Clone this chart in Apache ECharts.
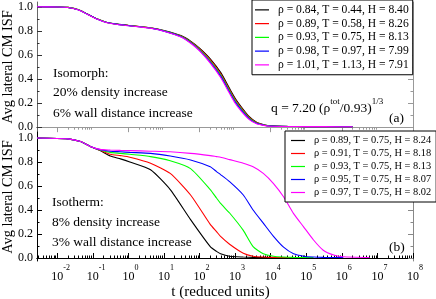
<!DOCTYPE html>
<html><head><meta charset="utf-8">
<script src="https://cdn.jsdelivr.net/npm/echarts@6/dist/echarts.min.js"></script>
<style>html,body{margin:0;padding:0;background:#fff}#c{width:436px;height:299px}</style>
</head><body><div id="c"></div>
<script>
const FONT = '"Liberation Serif", "DejaVu Serif", serif';
const COLORS = ['#000000', '#ff0000', '#00ff00', '#0000ff', '#ff00ff'];

// ---- Panel (a): isomorph ----
const namesA = [
  'ρ = 0.84, T = 0.44, H = 8.40',
  'ρ = 0.89, T = 0.58, H = 8.26',
  'ρ = 0.93, T = 0.75, H = 8.13',
  'ρ = 0.98, T = 0.97, H = 7.99',
  'ρ = 1.01, T = 1.13, H = 7.91'
];
const tA = [0.0027, 0.01, 0.02, 0.04, 0.07, 0.13, 0.25, 0.5, 1, 2, 5, 10, 30, 60, 100, 200, 400, 700, 1000, 1500, 2500, 4000, 7000, 1e4, 3e4, 1e5, 1e6, 2e6];
const a1 = [1.0, 0.998, 0.995, 0.975, 0.94, 0.90, 0.87, 0.856, 0.846, 0.837, 0.822, 0.803, 0.761, 0.709, 0.657, 0.568, 0.451, 0.321, 0.241, 0.168, 0.087, 0.041, 0.017, 0.011, 0.007, 0.005, 0.004, 0.004];
const a2 = [1.0, 0.998, 0.995, 0.975, 0.94, 0.90, 0.87, 0.855, 0.845, 0.836, 0.821, 0.801, 0.758, 0.704, 0.651, 0.559, 0.440, 0.310, 0.230, 0.159, 0.081, 0.038, 0.016, 0.010, 0.006, 0.005, 0.004, 0.004];
const a3 = [1.0, 0.998, 0.995, 0.975, 0.94, 0.90, 0.87, 0.855, 0.845, 0.835, 0.820, 0.800, 0.755, 0.700, 0.645, 0.550, 0.430, 0.300, 0.220, 0.150, 0.075, 0.035, 0.015, 0.010, 0.006, 0.005, 0.004, 0.004];
const a4 = [1.0, 0.998, 0.994, 0.974, 0.939, 0.899, 0.869, 0.854, 0.844, 0.834, 0.819, 0.798, 0.752, 0.696, 0.639, 0.541, 0.420, 0.290, 0.210, 0.141, 0.069, 0.032, 0.014, 0.009, 0.006, 0.005, 0.004, 0.004];
const a5 = [1.0, 0.998, 0.994, 0.973, 0.938, 0.898, 0.868, 0.853, 0.843, 0.833, 0.818, 0.797, 0.749, 0.691, 0.633, 0.532, 0.409, 0.279, 0.199, 0.132, 0.063, 0.029, 0.013, 0.008, 0.006, 0.005, 0.004, 0.004];

// ---- Panel (b): isotherm ----
const namesB = [
  'ρ = 0.89, T = 0.75, H = 8.24',
  'ρ = 0.91, T = 0.75, H = 8.18',
  'ρ = 0.93, T = 0.75, H = 8.13',
  'ρ = 0.95, T = 0.75, H = 8.07',
  'ρ = 0.97, T = 0.75, H = 8.02'
];
const tB = [0.0027, 0.02, 0.045, 0.085, 0.16, 0.31, 0.6, 1.1, 4.2, 15, 56, 200, 300, 390, 700, 1700, 3200, 6200, 12000, 23000, 44000, 84000, 160000, 300000, 590000, 1.1e6, 6e6];
const b1 = [1.0, 0.993, 0.97, 0.93, 0.895, 0.85, 0.826, 0.80, 0.735, 0.57, 0.32, 0.095, 0.055, 0.035, 0.015, 0.008, 0.005, 0.004, 0.004];
const b2 = [1.0, 0.993, 0.97, 0.93, 0.898, 0.865, 0.853, 0.84, 0.79, 0.705, 0.525, 0.28, 0.22, 0.18, 0.115, 0.04, 0.015, 0.008, 0.005, 0.004, 0.004];
const b3 = [1.0, 0.993, 0.97, 0.93, 0.90, 0.88, 0.872, 0.864, 0.845, 0.81, 0.745, 0.57, 0.50, 0.455, 0.375, 0.23, 0.095, 0.035, 0.015, 0.008, 0.005, 0.004, 0.004];
const b4 = [1.0, 0.993, 0.97, 0.93, 0.903, 0.89, 0.885, 0.88, 0.872, 0.85, 0.817, 0.76, 0.72, 0.695, 0.636, 0.525, 0.40, 0.29, 0.18, 0.09, 0.035, 0.015, 0.008, 0.005, 0.004, 0.004];
const b5 = [1.0, 0.993, 0.97, 0.93, 0.905, 0.90, 0.897, 0.895, 0.89, 0.885, 0.872, 0.853, 0.845, 0.84, 0.82, 0.79, 0.76, 0.705, 0.62, 0.51, 0.37, 0.26, 0.15, 0.065, 0.025, 0.01, 0.004];

// ---- Axis ticks ----
const XMIN = 0.0027, XMAX = 1e8;
const majorExpTop = [-2, 0, 2, 4, 6, 8];
const minorExpTop = [-2, 0, 2, 4, 6];
const majorExpBottom = [-2, -1, 0, 1, 2, 3, 4, 5, 6, 7, 8];
const minorExpBottom = [-3, -2, -1, 0, 1, 2, 3, 4, 5, 6, 7];
const minorMult = [2, 3, 4, 5, 6, 7, 8, 9];
const yMajors = [0, 0.2, 0.4, 0.6, 0.8, 1.0];
const yMinors = [0.1, 0.3, 0.5, 0.7, 0.9];

const pow10 = e => Number('1e' + e);
const minorsOf = exps => exps.flatMap(e => minorMult.map(m => m * pow10(e))).filter(v => v >= XMIN && v <= XMAX);

const chart = echarts.init(document.getElementById('c'), null, {renderer: 'canvas'});

function xAx(grid, pos, lineColor, ticks, len, tickColor, labels) {
  return {
    type: 'log', logBase: 10, gridIndex: grid, position: pos, min: XMIN, max: XMAX,
    axisLine: {show: !!lineColor, lineStyle: {color: lineColor || '#000', width: 1}},
    axisTick: ticks ? {show: true, inside: true, length: len, customValues: ticks, lineStyle: {color: tickColor, width: 1}} : {show: false},
    axisLabel: labels ? {
      show: true, customValues: ticks, margin: 10, hideOverlap: false,
      formatter: v => { const n = Math.round(Math.log10(v)); return '{pad|' + n + '}{b|10}{sup|' + n + '}'; },
      rich: {
        b: {fontSize: 12, fontFamily: FONT, color: '#000', lineHeight: 12, verticalAlign: 'bottom'},
        sup: {fontSize: 8, fontFamily: FONT, color: '#000', lineHeight: 8, verticalAlign: 'bottom', padding: [0, 0, 11, 0]},
        pad: {fontSize: 8, fontFamily: FONT, color: 'rgba(0,0,0,0)', lineHeight: 8, verticalAlign: 'bottom', padding: [0, 0, 11, 0]}
      }
    } : {show: false},
    splitLine: {show: false}
  };
}
function yAx(grid, pos, min, max, lineColor, ticks, len, tickColor, labels) {
  return {
    type: 'value', gridIndex: grid, position: pos, min: min, max: max,
    axisLine: {show: !!lineColor, lineStyle: {color: lineColor || '#000', width: 1}},
    axisTick: {show: true, inside: true, length: len, customValues: ticks, lineStyle: {color: tickColor, width: 1}},
    axisLabel: labels ? {show: true, customValues: ticks, margin: 4, fontSize: 12, fontFamily: FONT, color: '#000',
      formatter: v => v.toFixed(1)} : {show: false},
    splitLine: {show: false}
  };
}

const xAxis = [
  xAx(0, 'bottom', '#000', null),
  xAx(0, 'top', '#999', majorExpTop.map(pow10), 5, '#999'),
  xAx(0, 'top', null, minorsOf(minorExpTop), 2.5, '#999'),
  xAx(1, 'bottom', '#000', majorExpBottom.map(pow10), 5, '#000', true),
  xAx(1, 'bottom', null, minorsOf(minorExpBottom), 2.5, '#000'),
  xAx(1, 'top', '#000', null)
];
const yAxis = [
  yAx(0, 'left', -0.04, 1.04, '#666', yMajors, 5, '#333', true),
  yAx(0, 'left', -0.04, 1.04, null, yMinors, 2.5, '#333'),
  yAx(0, 'right', -0.04, 1.04, '#999', yMajors, 5, '#999'),
  yAx(0, 'right', -0.04, 1.04, null, yMinors, 2.5, '#999'),
  yAx(1, 'left', -0.025, 1.05, '#000', yMajors, 5, '#000', true),
  yAx(1, 'left', -0.025, 1.05, null, yMinors, 2.5, '#000'),
  yAx(1, 'right', -0.025, 1.05, '#888', yMajors, 5, '#888'),
  yAx(1, 'right', -0.025, 1.05, null, yMinors, 2.5, '#888')
];

const valsA = [a1, a2, a3, a4, a5];
const valsB = [b1, b2, b3, b4, b5];
const series = [];
valsA.forEach((vals, i) => series.push({
  type: 'line', name: namesA[i], xAxisIndex: 0, yAxisIndex: 0,
  data: vals.map((v, j) => [tA[j], v]), showSymbol: false, symbol: 'none',
  smooth: 0.2, lineStyle: {color: COLORS[i], width: 1.1}, itemStyle: {color: COLORS[i]}
}));
valsB.forEach((vals, i) => series.push({
  type: 'line', name: namesB[i], xAxisIndex: 3, yAxisIndex: 4,
  data: vals.map((v, j) => [tB[j], v]), showSymbol: false, symbol: 'none',
  smooth: 0.2, lineStyle: {color: COLORS[i], width: 1.1}, itemStyle: {color: COLORS[i]}
}));

function legendCfg(names, left, top, fs, lh, pad) {
  return {
    data: names, left: left, top: top, orient: 'vertical', icon: 'rect',
    itemWidth: 14, itemHeight: 1.2, itemGap: 0, padding: pad,
    borderColor: '#000', borderWidth: 1, backgroundColor: '#fff', selectedMode: false,
    textStyle: {fontFamily: FONT, fontSize: fs, lineHeight: lh, color: '#000', padding: [0, 0, 0, 4]}
  };
}

function txt(x, y, text, size, extra) {
  return Object.assign({type: 'text', x: x, y: y, z: 100,
    style: {text: text, fontSize: size, fontFamily: FONT, fill: '#000', align: 'left', verticalAlign: 'middle'}}, extra || {});
}
const supStyle = {fontSize: 9, fontFamily: FONT, fill: '#000', lineHeight: 9, verticalAlign: 'bottom', padding: [0, 0, 9, 0]};
const nStyle = {fontSize: 13.5, fontFamily: FONT, fill: '#000', lineHeight: 14, verticalAlign: 'bottom'};

chart.setOption({
  animation: false,
  backgroundColor: '#fff',
  grid: [
    {left: 37, top: 2, width: 376, height: 130},
    {left: 37, top: 132, width: 376, height: 129}
  ],
  xAxis: xAxis,
  yAxis: yAxis,
  legend: [
    legendCfg(namesA, 252, 0, 11.6, 13.75, [3, 4, 3, 3]),
    legendCfg(namesB, 285, 131, 10.4, 13, [3, 5, 3, 6])
  ],
  series: series,
  graphic: [
    txt(53, 73, 'Isomorph:', 13.5),
    txt(53, 92.5, '20% density increase', 13.5),
    txt(53, 113, '6% wall distance increase', 13.5),
    txt(52, 202, 'Isotherm:', 13.5),
    txt(52, 222.5, '8% density increase', 13.5),
    txt(52, 242.5, '3% wall distance increase', 13.5),
    txt(389, 118, '(a)', 13.5),
    txt(389, 247, '(b)', 13.5),
    {type: 'text', x: 271, y: 115, z: 100, style: {
      text: '{n|q = 7.20 (ρ}{s|tot}{n|/0.93)}{s|1/3}', align: 'left', verticalAlign: 'bottom',
      rich: {n: nStyle, s: supStyle}}},
    {type: 'text', x: 220.5, y: 292, z: 100, style: {text: 't (reduced units)', fontSize: 15, fontFamily: FONT, fill: '#000', align: 'center', verticalAlign: 'middle'}},
    {type: 'text', x: 8, y: 67, rotation: Math.PI / 2, z: 100, style: {text: 'Avg lateral CM ISF', fontSize: 14.4, fontFamily: FONT, fill: '#000', align: 'center', verticalAlign: 'middle'}},
    {type: 'text', x: 8, y: 197, rotation: Math.PI / 2, z: 100, style: {text: 'Avg lateral CM ISF', fontSize: 14.4, fontFamily: FONT, fill: '#000', align: 'center', verticalAlign: 'middle'}}
  ]
});
</script></body></html>
